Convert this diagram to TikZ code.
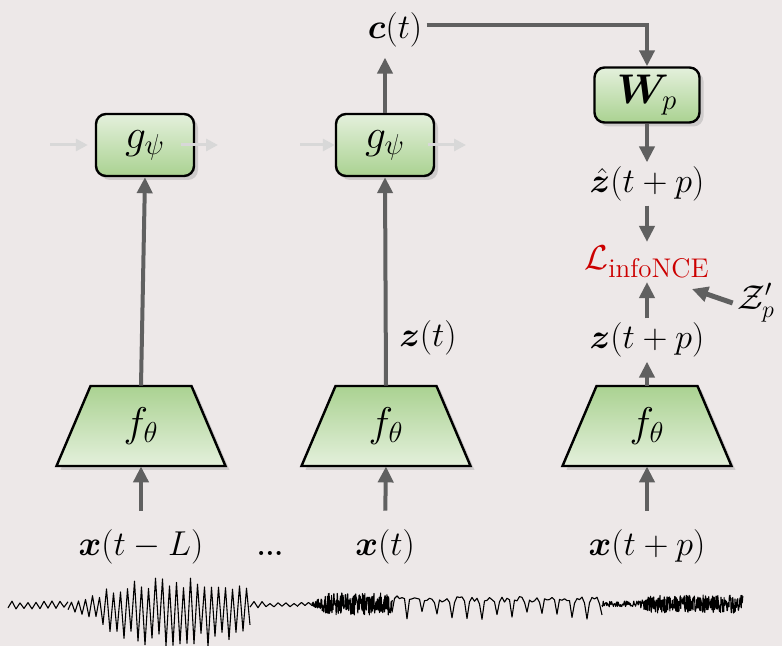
\documentclass[tikz,border=0pt]{standalone}
\usepackage{bm}
\usetikzlibrary{shapes.geometric,shadows,arrows.meta,calc}
\definecolor{bg}{RGB}{237,232,232}
\definecolor{arr}{RGB}{96,96,96}
\definecolor{garr}{RGB}{216,216,216}
\definecolor{gtop}{RGB}{228,240,220}
\definecolor{gbot}{RGB}{170,210,145}
\definecolor{lred}{RGB}{204,0,0}
\begin{document}
\begin{tikzpicture}[x=0.5pt,y=-0.5pt,
  shad/.style={drop shadow={opacity=0.28, shadow xshift=2pt, shadow yshift=-2pt}},
  gbox/.style={draw=black, line width=1.2pt, rounded corners=5pt, top color=gtop, bottom color=gbot,
    minimum width=49pt, minimum height=31pt, inner sep=0pt, shad, font=\fontsize{20}{22}\selectfont},
  trapshape/.style={draw=black, line width=1.2pt, line join=miter, top color=gbot, bottom color=gtop, shad},
  trapnode/.style={minimum width=50.5pt, minimum height=40pt, inner sep=0pt, font=\fontsize{20}{22}\selectfont},
  lbl/.style={inner sep=2pt, font=\fontsize{18}{21}\selectfont},
  arrow/.style={draw=arr, line width=2pt, -{Triangle[width=7.5pt,length=8pt]}},
  garrow/.style={draw=garr, line width=1.5pt, -{Triangle[width=6pt,length=6pt]}},
  wave/.style={draw=black, line width=0.55pt, line join=round},
]
\fill[bg] (0,0) rectangle (782,646);
\useasboundingbox (0,0) rectangle (782,646);

% trapezoid bodies
\coordinate (c1) at (141,426);
\coordinate (c2) at (386,426);
\coordinate (c3) at (647,426);
\foreach \c in {c1,c2,c3}{
  \path[trapshape] ($(\c)+(-84.5,40)$) -- ($(\c)+(-50.5,-40)$) -- ($(\c)+(50.5,-40)$) -- ($(\c)+(84.5,40)$) -- cycle;
}

% nodes
\node[gbox] (g1) at (145,145) {$g_\psi$};
\node[gbox] (g2) at (385,145) {$g_\psi$};
\node[gbox, minimum width=52.5pt, minimum height=27.5pt] (W) at (647,95) {$\bm{W}_p$};
\node[trapnode] (t1) at (c1) {$f_\theta$};
\node[trapnode] (t2) at (c2) {$f_\theta$};
\node[trapnode] (t3) at (c3) {$f_\theta$};
\node[lbl] (ct) at (395,30) {$\bm{c}(t)$};
\node[lbl] (zh) at (647,184) {$\hat{\bm{z}}(t+p)$};
\node[lbl, text=lred] (L) at (647,262) {$\mathcal{L}_{\mbox{\fontsize{13.5}{15}\selectfont infoNCE}}$};
\node[lbl] (zp) at (647,340) {$\bm{z}(t+p)$};
\node[lbl] (Zp) at (756,303) {$\mathcal{Z}'_p$};
\node[lbl] (zt) at (428,338) {$\bm{z}(t)$};
\node[lbl, anchor=base] (xL) at (141,555) {$\bm{x}(t-L)$};
\node[lbl, anchor=base, font=\fontsize{14}{16}\selectfont\bfseries] (dots) at (270,555) {...};
\node[lbl, anchor=base] (xt) at (385,555) {$\bm{x}(t)$};
\node[lbl, anchor=base] (xp) at (647,555) {$\bm{x}(t+p)$};

\coordinate (g1l) at (50,145);
\coordinate (g1r) at (218,145);
\coordinate (g2l) at (300,145);
\coordinate (g2r) at (466,145);
\coordinate (Lin) at (692,289);

% connectors
\draw[arrow] (t1.north) -- (g1.south);
\draw[arrow] (t2.north) -- (g2.south);
\draw[arrow, shorten >=3pt] (g2.north) -- (g2.north |- ct.south);
\draw[arrow] ([yshift=2.5pt]ct.east) -| (W.north);
\draw[arrow] (W.south) -- (zh.north);
\draw[arrow] (zh.south) -- (L.north);
\draw[arrow] (t3.north) -- (zp.south);
\draw[arrow] (zp.north) -- (L.south);
\draw[arrow, line width=2.5pt] (Zp.west) -- (Lin);
\draw[arrow, shorten <=7pt] (xL.north) -- (t1.south);
\draw[arrow, shorten <=7pt] (xt.north) -- (t2.south);
\draw[arrow, shorten <=7pt] (xp.north) -- (t3.south);

\draw[garrow] (g1l) -- ([xshift=-3.5pt]g1.west);
\draw[garrow] ([xshift=-7pt]g1.east) -- (g1r);
\draw[garrow] (g2l) -- (g2.west);
\draw[garrow] ([xshift=-3.5pt]g2.east) -- (g2r);

% waveform
\pgfmathsetseed{12}
\draw[wave] plot[variable=\t, domain=0:15, samples=16]
  ({8+4*\t},{605+4*(0.5+0.5*rnd)*cos(180*\t)});
\draw[wave] plot[variable=\t, domain=0:52, samples=53]
  ({68+3.5*\t},{606+(3+32*exp(-((68+3.5*\t-178)/82)*((68+3.5*\t-178)/82)*((68+3.5*\t-178)/82)*((68+3.5*\t-178)/82)))*(0.6+0.4*rnd)*(1+0.18*cos(180*\t))*cos(180*\t)});
\draw[wave] plot[variable=\t, domain=0:12, samples=13]
  ({250+4*\t},{605+(4-0.2*\t)*(0.4+0.6*rnd)*cos(180*\t)});
\draw[wave] plot[variable=\t, domain=0:4, samples=5]
  ({298+3.5*\t},{604+1.5*cos(180*\t)});
\draw[wave] plot[variable=\t, domain=0:230, samples=231]
  ({312+0.35*\t},{604+(2+9*min(1,\t/50))*rand});
\draw[wave] plot[variable=\t, domain=0:84, samples=85]
  ({392+2.5*\t},{604+(7+6*rnd)*(-0.5+1.7*max(0,cos(60*\t))*max(0,cos(60*\t))*max(0,cos(60*\t)))+2.5*rand});
\draw[wave] plot[variable=\t, domain=0:60, samples=61]
  ({602+0.6*\t},{604+3*rand});
\draw[wave] plot[variable=\t, domain=0:300, samples=301]
  ({638+0.35*\t},{604+(3+6*min(1,\t/40))*rand});
\end{tikzpicture}
\end{document}
